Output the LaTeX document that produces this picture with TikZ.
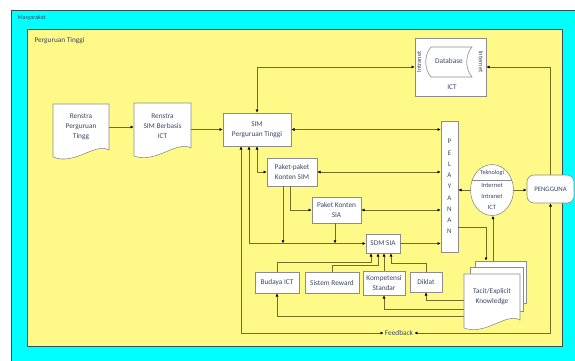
\documentclass[tikz,border=0pt]{standalone}
\usepackage{fontspec}
\setmainfont{Carlito}
\usetikzlibrary{arrows.meta,shapes.geometric,calc}
\definecolor{cyanbg}{RGB}{0,255,255}
\definecolor{yelbg}{RGB}{255,250,135}
\definecolor{framec}{RGB}{50,80,80}
\definecolor{boxline}{RGB}{140,140,140}
\definecolor{txt}{RGB}{60,70,100}
\definecolor{conn}{RGB}{115,110,40}
\begin{document}
\begin{tikzpicture}[x=1pt,y=-1pt,
  every node/.style={font=\fontsize{7.3}{10}\selectfont, text=txt},
  box/.style={draw=boxline, fill=white, line width=0.6pt, align=center, inner sep=0pt},
  plain/.style={align=center, inner sep=0pt},
  docline/.style={draw=boxline, fill=white, line width=0.6pt},
  conline/.style={draw=conn, line width=0.9pt, >={Latex[length=3.2pt,width=3pt,color=black]}},
  small/.style={font=\fontsize{6.5}{11.3}\selectfont}]
\useasboundingbox (0,0) rectangle (575,360);
\fill[white] (0,0) rectangle (575,360);
\draw[framec, fill=cyanbg, line width=0.8pt] (11,10) rectangle (577,362);
\draw[framec, fill=yelbg, line width=1pt] (27,29) rectangle (562,346);
\node[anchor=west, font=\fontsize{6}{7}\selectfont] (lblm) at (14,18) {Masyarakat};
\node[anchor=west] (lblp) at (31,41) {Perguruan Tinggi};

% document shapes
\draw[docline] (53,104) -- (109,104) -- (109,150) .. controls (95,142) and (75,166) .. (53,157) -- cycle;
\draw[docline] (134,103) -- (191,103) -- (191,148) .. controls (177,140) and (156,164) .. (134,156) -- cycle;
\draw[docline] (475,261) rectangle (526,303);
\draw[docline] (470,267) rectangle (523,311);
\draw[docline] (464,274) -- (520,274) -- (520,320) .. controls (506,312) and (486,336) .. (464,328) -- cycle;

\node[plain, minimum width=56, minimum height=46] (r1) at (81,127) {Renstra\\Perguruan\\Tingg};
\node[plain, minimum width=57, minimum height=46] (r2) at (162.5,126) {Renstra\\SIM Berbasis\\ICT};
\node[plain, minimum width=51, minimum height=42] (tacitb) at (500.5,282) {};
\node[plain, minimum width=56, minimum height=46] (tacit) at (492,297) {Tacit/Explicit\\Knowledge};

% ICT box
\node[box, minimum width=71, minimum height=58] (ict) at (450.5,67) {};
\draw[docline] (431,47) -- (472,47) .. controls (465,55) and (465,69) .. (472,77) -- (431,77) .. controls (424,69) and (424,55) .. (431,47) -- cycle;
\node[plain] (db) at (449,61) {Database};
\node[plain] (ictl) at (452,87) {ICT};
\node[plain, small, rotate=90] (intra) at (419,62) {Intranet};
\node[plain, small, rotate=-90] (inter) at (481,62) {Internet};

\node[box, minimum width=68, minimum height=33] (sim) at (257,129.5) {SIM\\Perguruan Tinggi};
\node[box, minimum width=50, minimum height=28] (pk1) at (292,172) {Paket-paket\\Konten SIM};
\node[box, minimum width=49, minimum height=26] (pk2) at (336.5,210) {Paket Konten\\SIA};
\node[box, minimum width=34, minimum height=19] (sdm) at (383,243.5) {SDM SIA};
\node[box, minimum width=44, minimum height=21] (bud) at (277,282.5) {Budaya ICT};
\node[box, minimum width=54, minimum height=21] (rew) at (332,282.5) {Sistem Reward};
\node[box, minimum width=42, minimum height=24] (komp) at (384,283) {Kompetensi\\Standar};
\node[box, minimum width=32, minimum height=20] (dik) at (426,282) {Diklat};
\node[box, minimum width=17, minimum height=131, font=\fontsize{7}{11.25}\selectfont] (pel) at (449.5,186.5) {P\\E\\L\\A\\Y\\A\\N\\A\\N};
\node[draw=boxline, fill=white, line width=0.6pt, ellipse, minimum width=43, minimum height=51, inner sep=0pt] (tek) at (492,190) {};
\draw[boxline, line width=0.6pt] ($(tek.center)+(-20,-10)$) -- ($(tek.center)+(20,-10)$);
\node[plain, font=\fontsize{6.2}{7}\selectfont] (tekt) at (492,173) {Teknologi};
\node[plain, small] (tekb) at (492,196.5) {Internet\\Intranet\\ICT};
\node[draw=boxline, fill=white, line width=0.6pt, rounded corners=7pt, minimum width=47, minimum height=28, inner sep=0pt, font=\fontsize{6.8}{8}\selectfont] (peng) at (550.5,189) {PENGGUNA};
\node[inner sep=1pt] (fb) at (399,333) {Feedback};

\coordinate (yb) at (0,262);
\coordinate (yr) at (0,265);
\coordinate (yd) at (0,263);
\coordinate (t1) at (0,300);
\coordinate (t2) at (0,309);
\coordinate (t3) at (0,316);
\coordinate (p1) at (0,227);

% connectors
\draw[conline,->] (r1.east) -- (r1.east -| r2.west);
\draw[conline,->] (r2.east |- sim.west) -- (sim.west);
\draw[conline,<->] (sim.north) |- (ict.west);
\draw[conline,<-] (ict.east) -| (peng.north);
\draw[conline,<->] (sim.east) -- (sim.east -| pel.west);
\draw[conline,<->] (pk1.east) -- (pk1.east -| pel.west);
\draw[conline,<->] (pk2.east) -- (pk2.east -| pel.west);
\draw[conline,->] (sdm.east) -- (sdm.east -| pel.west);
\draw[conline,->] (tek.west) -- (tek.west -| pel.east);
\draw[conline,->] (tek.east) -- (tek.east -| peng.west);
\draw[conline,<->] (sim.south) |- (pk1.west);
\draw[conline,<->] ([xshift=-8pt]sim.south) |- (sdm.west);
\draw[conline,<->] ([xshift=-16pt]sim.south) |- (fb.west);
\draw[conline,<->] (peng.south) |- (fb.east);
\draw[conline,->] ([xshift=-9pt]pk1.south) -- ([xshift=-9pt]pk1.south |- sdm.west);
\draw[conline,->] ([xshift=-2pt]pk1.south) |- (pk2.west);
\draw[conline,->] ([xshift=-1.5pt]pk2.south) -- ([xshift=-1.5pt]pk2.south |- sdm.west);
\draw[conline,->] (bud.north) -- (bud.north |- yb) -| ([xshift=-12pt]sdm.south);
\draw[conline,->] (rew.north) -- (rew.north |- yr) -| ([xshift=-5pt]sdm.south);
\draw[conline,->] (komp.north) -- (komp.north |- sdm.south);
\draw[conline,->] (dik.north) -- (dik.north |- yd) -| ([xshift=8pt]sdm.south);
\draw[conline,->] (tacit.west |- t1) -| (dik.south);
\draw[conline,->] (tacit.west |- t2) -| (komp.south);
\draw[conline,->] (tacit.west |- t3) -| (bud.south);
\draw[conline,->] (pel.east |- p1) -| ([xshift=-14.5pt]tacitb.north);
\draw[conline,->] ([xshift=-7.5pt]tacitb.north) -- ([xshift=-7.5pt]tacitb.north |- tek.south);
\end{tikzpicture}
\end{document}
